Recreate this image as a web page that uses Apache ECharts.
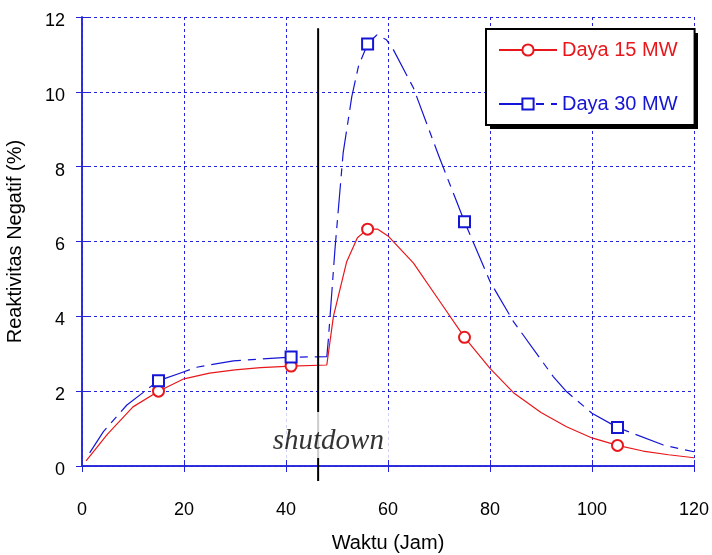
<!DOCTYPE html>
<html>
<head>
<meta charset="utf-8">
<script src="https://cdn.jsdelivr.net/npm/echarts@6/dist/echarts.min.js"></script>
<style>
  html, body { margin: 0; padding: 0; background: #fff; }
  #chart { width: 712px; height: 555px; }
</style>
</head>
<body>
<div id="chart"></div>
<script>
// Daya 15 MW
var waktu15 = [0.8, 5, 10, 15, 20, 25, 30, 35, 41, 48, 49.3, 51.9, 54, 56, 58, 60, 65, 70, 75, 80, 84.6, 90, 95, 100, 105, 110, 115, 120]
var reaktivitas15 = [0.14, 0.85, 1.58, 2.0, 2.33, 2.48, 2.57, 2.63, 2.67, 2.7, 4.0, 5.46, 6.1, 6.33, 6.33, 6.15, 5.42, 4.43, 3.44, 2.61, 1.96, 1.43, 1.05, 0.75, 0.55, 0.4, 0.3, 0.22]
// Daya 30 MW
var waktu30 = [1.5, 4.2, 8.8, 15, 19.2, 22.5, 29.7, 41, 48, 48.3, 49.6, 51.2, 52.9, 54.2, 56, 57.8, 59.7, 61, 65, 70, 75, 80, 84.6, 92.4, 95, 100, 105, 114, 120]
var reaktivitas30 = [0.35, 0.92, 1.63, 2.28, 2.48, 2.64, 2.81, 2.91, 2.92, 3.37, 5.79, 8.36, 9.87, 10.68, 11.28, 11.52, 11.39, 11.14, 10.1, 8.27, 6.53, 4.93, 3.86, 2.39, 1.99, 1.41, 1.03, 0.56, 0.38]
// titik yang diberi simbol
var markerX = [15, 41, 56, 75, 105]
// garis shutdown
var shutdownX = 46.3
var shutdownY = [-0.4, 11.7]
var shutdownLabel = [48.3, 0.83]

var merah = '#e8171b'
var biru = '#1515d5'
var gridBiru = '#2424dc'
var huruf = 'Liberation Sans, Arial, sans-serif'

function buildData(xs, ys) {
  return xs.map(function(x, i) {
    var item = { value: [x, ys[i]] }
    if (markerX.indexOf(x) < 0) item.symbol = 'none'
    return item
  })
}

var chart = echarts.init(document.getElementById('chart'))

var xAxisBase = {
  type: 'value',
  min: 0,
  max: 120,
  interval: 20,
  axisLine: { show: true, lineStyle: { color: gridBiru, width: 1.5 } },
  axisTick: { show: true, inside: true, length: 6, lineStyle: { color: gridBiru } }
}
var yAxisBase = {
  type: 'value',
  min: 0,
  max: 12,
  interval: 2,
  axisLine: { show: true, lineStyle: { color: gridBiru, width: 1.5 } },
  axisTick: { show: true, inside: true, length: 6, lineStyle: { color: gridBiru } }
}

chart.setOption({
  animation: false,
  grid: { left: 82, right: 18, top: 17, bottom: 89, containLabel: false, outerBoundsMode: 'none' },
  // bayangan kotak legenda
  graphic: [
    {
      type: 'rect',
      left: 490,
      top: 33,
      z: 3,
      shape: { width: 208, height: 96 },
      style: { fill: '#000' }
    }
  ],
  legend: {
    orient: 'vertical',
    left: 486,
    top: 29,
    z: 5,
    padding: [11, 17, 11, 12],
    itemGap: 34,
    itemWidth: 58,
    itemHeight: 14,
    backgroundColor: '#fff',
    borderColor: '#000',
    borderWidth: 2,
    borderRadius: 0,
    textStyle: { fontFamily: huruf, fontSize: 20 },
    data: [
      { name: 'Daya 15 MW', textStyle: { color: merah } },
      { name: 'Daya 30 MW', textStyle: { color: biru } }
    ]
  },
  xAxis: [
    Object.assign({}, xAxisBase, {
      position: 'bottom',
      name: 'Waktu (Jam)',
      nameLocation: 'middle',
      nameGap: 67,
      nameTextStyle: { color: '#000', fontFamily: huruf, fontSize: 20 },
      axisLabel: { color: '#000', fontFamily: huruf, fontSize: 18, margin: 35 },
      splitLine: { show: true, lineStyle: { color: gridBiru, type: [3, 3], width: 1 } }
    }),
    Object.assign({}, xAxisBase, {
      position: 'top',
      axisLabel: { show: false },
      splitLine: { show: false }
    })
  ],
  yAxis: [
    Object.assign({}, yAxisBase, {
      position: 'left',
      name: 'Reaktivitas Negatif (%)',
      nameLocation: 'middle',
      nameGap: 57,
      nameTextStyle: { color: '#000', fontFamily: huruf, fontSize: 20 },
      axisLabel: { color: '#000', fontFamily: huruf, fontSize: 18, margin: 17, verticalAlign: 'top', lineHeight: 8 },
      splitLine: { show: true, lineStyle: { color: gridBiru, type: [3, 3], width: 1 } }
    }),
    Object.assign({}, yAxisBase, {
      position: 'right',
      axisLabel: { show: false },
      splitLine: { show: false }
    })
  ],
  series: [
    {
      name: 'Daya 15 MW',
      type: 'line',
      data: buildData(waktu15, reaktivitas15),
      symbol: 'emptyCircle',
      symbolSize: 11,
      showAllSymbol: true,
      color: merah,
      lineStyle: { color: merah, width: 1.2 },
      itemStyle: { color: merah, borderColor: merah, borderWidth: 1.2 },
      z: 3
    },
    {
      name: 'Daya 30 MW',
      type: 'line',
      data: buildData(waktu30, reaktivitas30),
      symbol: 'emptyRect',
      symbolSize: 11,
      showAllSymbol: true,
      color: biru,
      lineStyle: { color: biru, width: 1.2, type: [30, 7, 8, 7] },
      itemStyle: { color: biru, borderColor: biru, borderWidth: 1.2 },
      z: 3
    },
    {
      name: 'shutdown-line',
      type: 'line',
      data: [[shutdownX, shutdownY[0]], [shutdownX, shutdownY[1]]],
      symbol: 'none',
      clip: false,
      silent: true,
      lineStyle: { color: '#000', width: 2 },
      z: 4
    },
    {
      // kotak putih di belakang tulisan shutdown
      name: 'shutdown',
      type: 'scatter',
      data: [shutdownLabel],
      symbol: 'rect',
      symbolSize: [124, 46],
      silent: true,
      itemStyle: { color: '#fff' },
      label: {
        show: true,
        position: 'inside',
        offset: [0, 6],
        formatter: 'shutdown',
        color: '#000',
        fontFamily: 'Liberation Serif, Times New Roman, serif',
        fontStyle: 'italic',
        fontSize: 29
      },
      z: 10
    }
  ]
})
</script>
</body>
</html>
